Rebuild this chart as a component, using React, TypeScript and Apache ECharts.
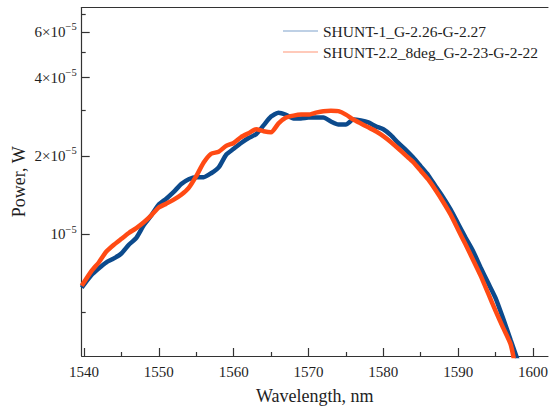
import React, { useEffect, useRef } from "react";
import * as echarts from "echarts";

// Wavelength grid (nm) and power (W)
const blueWavelengths = [
  1539.7, 1541, 1542, 1543, 1544, 1545, 1546, 1547, 1548, 1549,
  1550, 1551, 1552, 1553, 1554, 1555, 1556, 1557, 1558, 1559,
  1560, 1561, 1562, 1563, 1564, 1565, 1566, 1567, 1568, 1569,
  1570, 1571, 1572, 1573, 1574, 1575, 1576, 1577, 1578, 1579,
  1580, 1581, 1582, 1583, 1584, 1585, 1586, 1587, 1588, 1589,
  1590, 1591, 1592, 1593, 1594, 1595, 1596, 1597, 1598,
];
const bluePower = [
  6.23e-6, 6.97e-6, 7.40e-6, 7.80e-6, 8.07e-6, 8.43e-6, 9.11e-6, 9.68e-6, 10.84e-6, 11.82e-6,
  13.00e-6, 13.70e-6, 14.55e-6, 15.60e-6, 16.28e-6, 16.57e-6, 16.57e-6, 17.16e-6, 18.07e-6, 20.22e-6,
  21.30e-6, 22.44e-6, 23.44e-6, 24.26e-6, 26.22e-6, 28.35e-6, 29.35e-6, 28.80e-6, 27.87e-6, 27.87e-6,
  28.10e-6, 28.10e-6, 28.10e-6, 27.15e-6, 26.45e-6, 26.45e-6, 27.62e-6, 27.39e-6, 26.92e-6, 26.00e-6,
  25.33e-6, 24.05e-6, 22.44e-6, 21.12e-6, 19.71e-6, 18.23e-6, 16.86e-6, 15.26e-6, 13.85e-6, 12.43e-6,
  10.97e-6, 9.68e-6, 8.60e-6, 7.45e-6, 6.50e-6, 5.68e-6, 4.75e-6, 3.93e-6, 3.25e-6,
];

const orangeWavelengths = [
  1539.7, 1541, 1542, 1543, 1544, 1545, 1546, 1547, 1548, 1549,
  1550, 1551, 1552, 1553, 1554, 1555, 1556, 1557, 1558, 1559,
  1560, 1561, 1562, 1563, 1564, 1565, 1566, 1567, 1568, 1569,
  1570, 1571, 1572, 1573, 1574, 1575, 1576, 1577, 1578, 1579,
  1580, 1581, 1582, 1583, 1584, 1585, 1586, 1587, 1588, 1589,
  1590, 1591, 1592, 1593, 1594, 1595, 1596, 1597, 1597.5,
];
const orangePower = [
  6.33e-6, 7.21e-6, 7.80e-6, 8.58e-6, 9.11e-6, 9.60e-6, 10.11e-6, 10.56e-6, 11.12e-6, 11.82e-6,
  12.67e-6, 13.11e-6, 13.58e-6, 14.18e-6, 15.07e-6, 16.72e-6, 18.87e-6, 20.40e-6, 20.76e-6, 21.86e-6,
  22.44e-6, 23.64e-6, 24.47e-6, 25.33e-6, 24.90e-6, 24.69e-6, 26.68e-6, 28.10e-6, 28.60e-6, 28.85e-6,
  28.85e-6, 29.35e-6, 29.74e-6, 29.87e-6, 29.74e-6, 28.85e-6, 27.62e-6, 26.68e-6, 25.77e-6, 24.90e-6,
  23.85e-6, 22.64e-6, 21.36e-6, 20.09e-6, 18.94e-6, 17.55e-6, 16.24e-6, 14.75e-6, 13.30e-6, 11.89e-6,
  10.41e-6, 9.12e-6, 7.96e-6, 6.93e-6, 5.93e-6, 5.07e-6, 4.37e-6, 3.78e-6, 3.25e-6,
];

const seriesNames = ["SHUNT-1_G-2.26-G-2.27", "SHUNT-2.2_8deg_G-2-23-G-2-22"];

const xMajorTicks = [1540, 1550, 1560, 1570, 1580, 1590, 1600];
const xMinorTicks = [1545, 1555, 1565, 1575, 1585, 1595];
const yMajorTicks = [1e-5, 2e-5, 4e-5, 6e-5];
const yMajorMantissa = ["", "2×", "4×", "6×"];
const yExponent = "−5";
const yMinorTicks = [5e-6, 3e-5, 5e-5, 7e-5];

const X_MIN = 1539.7;
const X_MAX = 1602;
const Y_MIN = 3.4e-6;
const Y_MAX = 7.45e-5;

const FONT = "'Liberation Serif', 'Times New Roman', serif";
const TEXT = "#1e1e1e";
const AXIS = "#333333";

export default function App() {
  const ref = useRef<HTMLDivElement>(null);

  useEffect(() => {
    if (!ref.current) return;
    const chart = echarts.init(ref.current, undefined, { renderer: "svg" });
    const lg = (v: number) => Math.log10(v);

    const blueData = blueWavelengths.map((w, i) => [w, bluePower[i]]);
    const orangeData = orangeWavelengths.map((w, i) => [w, orangePower[i]]);

    const option: any = {
      animation: false,
      backgroundColor: "#ffffff",
      textStyle: { fontFamily: FONT },
      grid: { left: 81.7, right: 0, top: 7.5, bottom: 46, containLabel: false },
      legend: {
        orient: "vertical",
        left: 278,
        top: 18,
        icon: "rect",
        itemWidth: 35,
        itemHeight: 1.5,
        itemGap: 5,
        textStyle: { fontFamily: FONT, fontSize: 15.5, color: TEXT, lineHeight: 14 },
        data: [
          { name: seriesNames[0], itemStyle: { color: "#a9c0dc" } },
          { name: seriesNames[1], itemStyle: { color: "#ffb9a3" } },
        ],
      },
      xAxis: [
        {
          type: "value",
          min: X_MIN,
          max: X_MAX,
          position: "bottom",
          name: "Wavelength, nm",
          nameLocation: "middle",
          nameGap: 31,
          nameTextStyle: { fontFamily: FONT, fontSize: 18, color: TEXT },
          axisLine: { show: true, onZero: false, lineStyle: { color: AXIS, width: 1.2 } },
          axisTick: { show: true, inside: true, length: 8, customValues: xMajorTicks, lineStyle: { color: AXIS, width: 1.2 } },
          axisLabel: {
            show: true,
            customValues: xMajorTicks,
            margin: 8,
            fontFamily: FONT,
            fontSize: 15,
            color: TEXT,
            formatter: (v: number) => String(Math.round(v)),
          },
          splitLine: { show: false },
        },
        {
          type: "value",
          min: X_MIN,
          max: X_MAX,
          position: "bottom",
          axisLine: { show: false, onZero: false },
          axisTick: { show: true, inside: true, length: 4, customValues: xMinorTicks, lineStyle: { color: AXIS, width: 1.2 } },
          axisLabel: { show: false },
          splitLine: { show: false },
        },
        {
          type: "value",
          min: X_MIN,
          max: X_MAX,
          position: "top",
          axisLine: { show: true, onZero: false, lineStyle: { color: AXIS, width: 1.2 } },
          axisTick: { show: false },
          axisLabel: { show: false },
          splitLine: { show: false },
        },
      ],
      yAxis: [
        {
          type: "log",
          logBase: 10,
          min: Y_MIN,
          max: Y_MAX,
          position: "left",
          name: "Power, W",
          nameLocation: "middle",
          nameGap: 54,
          nameTextStyle: { fontFamily: FONT, fontSize: 18, color: TEXT },
          axisLine: { show: true, onZero: false, lineStyle: { color: AXIS, width: 1.2 } },
          axisTick: { show: false },
          axisLabel: { show: false },
          splitLine: { show: false },
        },
        {
          type: "value",
          min: lg(Y_MIN),
          max: lg(Y_MAX),
          position: "left",
          axisLine: { show: false, onZero: false },
          axisTick: {
            show: true,
            inside: true,
            length: 8,
            customValues: yMajorTicks.map(lg),
            lineStyle: { color: AXIS, width: 1.2 },
          },
          axisLabel: {
            show: true,
            customValues: yMajorTicks.map(lg),
            margin: 5,
            fontFamily: FONT,
            formatter: (v: number) => {
              const i = yMajorTicks.findIndex((t) => Math.abs(lg(t) - v) < 1e-6);
              if (i < 0) return "";
              return `{m|${yMajorMantissa[i]}10}{e|${yExponent}}`;
            },
            rich: {
              m: { fontFamily: FONT, fontSize: 15, color: TEXT, lineHeight: 21 },
              e: { fontFamily: FONT, fontSize: 10.5, color: TEXT, verticalAlign: "top" },
            },
          },
          splitLine: { show: false },
        },
        {
          type: "value",
          min: lg(Y_MIN),
          max: lg(Y_MAX),
          position: "left",
          axisLine: { show: false, onZero: false },
          axisTick: {
            show: true,
            inside: true,
            length: 4,
            customValues: yMinorTicks.map(lg),
            lineStyle: { color: AXIS, width: 1.2 },
          },
          axisLabel: { show: false },
          splitLine: { show: false },
        },
      ],
      series: [
        {
          name: seriesNames[0],
          type: "line",
          xAxisIndex: 0,
          yAxisIndex: 0,
          data: blueData,
          showSymbol: false,
          symbol: "none",
          smooth: 0.2,
          color: "#0c4a8c",
          lineStyle: { color: "#0c4a8c", width: 4.5 },
          z: 2,
        },
        {
          name: seriesNames[1],
          type: "line",
          xAxisIndex: 0,
          yAxisIndex: 0,
          data: orangeData,
          showSymbol: false,
          symbol: "none",
          smooth: 0.2,
          color: "#ff4a14",
          lineStyle: { color: "#ff4a14", width: 4.5 },
          z: 3,
        },
      ],
    };

    chart.setOption(option);
    return () => chart.dispose();
  }, []);

  return (
    <div
      ref={ref}
      style={{ position: "fixed", left: 0, top: 0, width: 551, height: 410, background: "#fff" }}
    />
  );
}
